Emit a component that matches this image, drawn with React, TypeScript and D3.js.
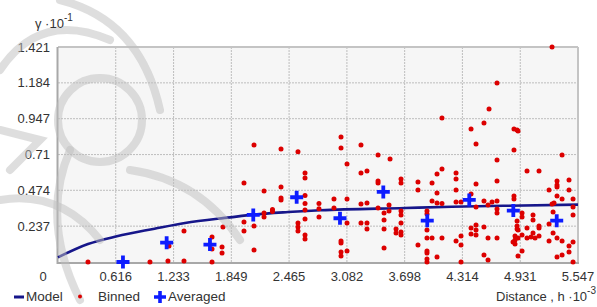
import React, { useEffect, useRef } from 'react';
import * as d3 from 'd3';

// distance in units of 10^-3, semivariance in units of 10^-1
const xTicks = [0.616, 1.233, 1.849, 2.465, 3.082, 3.698, 4.314, 4.931, 5.547];
const yTicks = [0.237, 0.474, 0.71, 0.947, 1.184, 1.421];

const modelCurve: [number, number][] = [
  [0, 0.031], [0.32, 0.119], [0.628, 0.17], [1.03, 0.22], [1.355, 0.258], [1.835, 0.295],
  [2.084, 0.313], [2.455, 0.33], [2.8, 0.342], [3.7, 0.357], [4.2, 0.365], [4.8, 0.372], [5.547, 0.379],
];

const averaged: [number, number][] = [
  [0.693, 0], [1.159, 0.128], [1.621, 0.115], [2.083, 0.311], [2.546, 0.428], [3.008, 0.289],
  [3.47, 0.463], [3.939, 0.273], [4.387, 0.41], [4.857, 0.34], [5.32, 0.273],
];

const binned: [number, number][] = [
  [0.32, 0], [0.981, 0], [1.173, 0.007], [1.344, 0.007], [1.344, 0.205], [1.184, 0.106],
  [1.643, 0], [1.643, 0.165], [1.643, 0.086], [1.76, 0.231], [1.75, 0.099], [1.75, 0.059],
  [1.984, 0.522], [1.984, 0.264], [1.984, 0.205], [2.091, 0.773], [2.091, 0.238], [2.091, 0.079],
  [2.198, 0.469], [2.198, 0.324], [2.198, 0.297], [2.288, 0.347], [2.288, 0.334],
  [2.379, 0.747], [2.379, 0.496], [2.379, 0.423], [2.379, 0.41],
  [2.56, 0.729], [2.56, 0.258], [2.56, 0.231], [2.56, 0.205],
  [2.635, 0.588], [2.635, 0.555], [2.635, 0.44], [2.635, 0.387], [2.635, 0.344], [2.635, 0.284],
  [2.635, 0.178], [2.635, 0.152], [2.784, 0.387], [2.784, 0.352], [2.784, 0.297],
  [3.019, 0.826], [3.019, 0.753], [3.232, 0.773], [3.083, 0.648], [3.414, 0.707], [3.542, 0.681],
  [3.232, 0.588], [3.296, 0.601], [3.414, 0.535], [3.414, 0.522], [3.659, 0.549], [3.659, 0.522],
  [3.84, 0.529], [3.84, 0.476], [3.99, 0.522], [4.043, 0.582], [4.096, 0.615], [4.043, 0.456],
  [3.99, 0.403], [4.043, 0.39], [4.096, 0.387],
  [2.944, 0.416], [2.944, 0.357], [3.083, 0.416], [3.232, 0.383], [3.296, 0.39], [3.414, 0.357],
  [3.531, 0.377], [3.531, 0.337], [3.659, 0.337], [3.659, 0.311], [3.478, 0.324], [3.478, 0.278],
  [3.083, 0.258], [3.232, 0.258], [3.296, 0.258], [3.296, 0.218], [3.478, 0.218],
  [3.606, 0.218], [3.606, 0.192], [3.659, 0.198], [3.659, 0.178], [3.659, 0.258],
  [3.019, 0.139], [3.019, 0.126], [3.019, 0.066], [3.019, 0.04], [3.083, 0.073], [3.478, 0.093],
  [3.84, 0.112], [3.936, 0.337], [3.936, 0.317], [3.936, 0.211], [3.936, 0.159], [3.936, 0.073],
  [3.936, 0.059], [3.936, 0.02], [3.936, 0], [3.99, 0.159], [4.096, 0.159], [4.043, 0.033],
  [4.096, 0.952], [4.246, 0.588], [4.246, 0.549], [4.246, 0.476], [4.246, 0.397], [4.299, 0.397],
  [4.246, 0.139], [4.299, 0.172], [4.299, 0.112], [4.299, 0],
  [4.406, 0.879], [4.544, 0.919], [4.459, 0.78], [4.598, 1.011], [4.683, 1.183], [5.27, 1.421],
  [4.864, 0.879], [4.897, 0.872], [4.907, 0.866], [4.864, 0.74],
  [4.459, 0.516], [4.406, 0.449], [4.544, 0.403], [4.63, 0.397], [4.683, 0.403], [4.459, 0.364],
  [4.587, 0.377], [4.683, 0.35], [4.683, 0.324], [4.683, 0.674], [4.683, 0.535],
  [4.406, 0.225], [4.406, 0.185], [4.459, 0.245], [4.459, 0.211], [4.459, 0.178], [4.544, 0.231],
  [4.587, 0.159], [4.683, 0.159], [4.544, 0.046], [4.587, 0.013],
  [4.864, 0.436], [4.864, 0.416], [5.003, 0.601], [5.131, 0.601],
  [4.95, 0.324], [4.95, 0.297], [4.897, 0.271], [5.067, 0.311], [5.067, 0.278],
  [4.897, 0.238], [4.897, 0.218], [5.003, 0.225], [5.131, 0.238], [5.131, 0.225],
  [4.907, 0.211], [4.875, 0.172], [4.907, 0.159], [4.875, 0.145], [4.854, 0.132], [4.875, 0.119],
  [4.95, 0.178], [5.003, 0.159], [5.046, 0.165], [5.067, 0.192], [5.131, 0.172], [5.089, 0.159],
  [4.95, 0.073], [4.907, 0.04],
  [5.238, 0.476], [5.323, 0.535], [5.323, 0.509], [5.323, 0.496], [5.451, 0.542], [5.451, 0.476],
  [5.323, 0.436], [5.27, 0.383], [5.291, 0.39], [5.377, 0.416], [5.494, 0.416], [5.494, 0.364],
  [5.494, 0.311], [5.281, 0.33], [5.238, 0.251], [5.281, 0.192], [5.323, 0.159], [5.377, 0.139],
  [5.238, 0.139], [5.451, 0.106], [5.494, 0.132], [5.451, 0.066], [5.323, 0.033], [5.377, 0.046],
  [5.494, 0], [5.377, 0.707],
];

const font = '"Liberation Sans", Arial, sans-serif';
const textColor = '#333';

const App: React.FC = () => {
  const ref = useRef<SVGSVGElement | null>(null);

  useEffect(() => {
    if (!ref.current) return;
    const svg = d3.select(ref.current);
    svg.selectAll('*').remove();

    const W = 597, H = 307;
    const margin = { top: 47, right: 19, bottom: 45, left: 58 };
    const width = W - margin.left - margin.right;
    const height = H - margin.top - margin.bottom;

    const x = d3.scaleLinear().domain([0, 5.547]).range([0, width]);
    const y = d3.scaleLinear().domain([0, 1.421]).range([height, 0]);

    svg.append('rect').attr('width', W).attr('height', H).attr('fill', '#fff');

    const chart = svg.append('g').attr('transform', `translate(${margin.left},${margin.top})`);
    chart.append('rect').attr('width', width).attr('height', height).attr('fill', '#f6f6f6');

    // faint ornament watermark
    const wm = svg.append('g').attr('fill', 'none').attr('stroke', '#bdbdbd').attr('stroke-opacity', 0.5)
      .attr('stroke-width', 8).attr('stroke-linecap', 'round');
    wm.append('path').attr('d', 'M60,0 Q140,20 160,110');
    wm.append('path').attr('d', 'M0,70 Q40,10 110,40');
    wm.append('circle').attr('cx', 100).attr('cy', 120).attr('r', 42);
    wm.append('path').attr('d', 'M70,150 Q40,220 80,300');
    wm.append('path').attr('d', 'M130,170 Q200,180 240,240');
    wm.append('path').attr('d', 'M0,200 Q60,190 100,240');
    wm.append('path').attr('d', 'M0,130 L40,140 L10,170');

    // grid
    const grid = chart.append('g').attr('stroke', '#bdbdbd').attr('stroke-width', 1).attr('stroke-dasharray', '2,1');
    grid.selectAll('.vx').data(xTicks.slice(0, -1)).enter().append('line')
      .attr('x1', d => x(d)).attr('x2', d => x(d)).attr('y1', 0).attr('y2', height);
    grid.selectAll('.hy').data(yTicks.slice(0, -1)).enter().append('line')
      .attr('x1', 0).attr('x2', width).attr('y1', d => y(d)).attr('y2', d => y(d));

    // frame
    chart.append('line').attr('x1', 0).attr('x2', width).attr('y1', 0).attr('y2', 0)
      .attr('stroke', '#c4c4c4').attr('stroke-width', 2);
    chart.append('line').attr('x1', width).attr('x2', width).attr('y1', 0).attr('y2', height + 1)
      .attr('stroke', '#c4c4c4').attr('stroke-width', 2);
    chart.append('line').attr('x1', 0).attr('x2', width + 1).attr('y1', height + 1).attr('y2', height + 1)
      .attr('stroke', '#a8a8a8').attr('stroke-width', 2);
    chart.append('line').attr('x1', -0.5).attr('x2', -0.5).attr('y1', 0).attr('y2', height + 2)
      .attr('stroke', '#a8a8a8').attr('stroke-width', 2);

    // tick labels
    chart.selectAll('.yl').data(yTicks).enter().append('text')
      .attr('x', -8).attr('y', d => y(d) + 4.5).attr('text-anchor', 'end')
      .attr('font-family', font).attr('font-size', 13).attr('fill', textColor).text(d => String(d));
    chart.selectAll('.xl').data(xTicks).enter().append('text')
      .attr('x', d => x(d)).attr('y', height + 19).attr('text-anchor', 'middle')
      .attr('font-family', font).attr('font-size', 13).attr('fill', textColor).text(d => String(d));
    chart.append('text').attr('x', -15).attr('y', height + 19).attr('text-anchor', 'middle')
      .attr('font-family', font).attr('font-size', 13).attr('fill', textColor).text('0');

    // model
    const line = d3.line<[number, number]>().x(d => x(d[0])).y(d => y(d[1])).curve(d3.curveMonotoneX);
    chart.append('path').datum(modelCurve).attr('d', line).attr('fill', 'none')
      .attr('stroke', '#16168a').attr('stroke-width', 2.6);

    // binned
    chart.selectAll('.dot').data(binned).enter().append('circle')
      .attr('cx', d => x(d[0])).attr('cy', d => y(d[1])).attr('r', 2.5).attr('fill', '#dc0000');

    // averaged
    chart.selectAll('.avg').data(averaged).enter().append('path')
      .attr('d', 'M-6.5,0H6.5M0,-6.5V6.5')
      .attr('transform', d => `translate(${x(d[0])},${y(d[1])})`)
      .attr('stroke', '#0d1cff').attr('stroke-width', 3.8).attr('fill', 'none');

    // axis titles
    const yt = svg.append('text').attr('x', 35).attr('y', 28).attr('font-family', font)
      .attr('font-size', 13).attr('fill', textColor);
    yt.append('tspan').text('γ ·10');
    yt.append('tspan').attr('dy', -7).attr('font-size', 10).text('-1');

    const xt = svg.append('text').attr('x', 596).attr('y', 301).attr('text-anchor', 'end')
      .attr('font-family', font).attr('font-size', 13).attr('fill', textColor);
    xt.append('tspan').text('Distance , h ·10');
    xt.append('tspan').attr('dy', -7).attr('font-size', 10).text('-3');

    // legend
    const lg = svg.append('g').attr('font-family', font).attr('font-size', 13.5).attr('fill', textColor);
    lg.append('line').attr('x1', 14).attr('x2', 24).attr('y1', 297).attr('y2', 297)
      .attr('stroke', '#16168a').attr('stroke-width', 3);
    lg.append('text').attr('x', 26).attr('y', 301).text('Model');
    lg.append('circle').attr('cx', 80).attr('cy', 296.5).attr('r', 2).attr('fill', '#dc0000');
    lg.append('text').attr('x', 98).attr('y', 301).text('Binned');
    lg.append('path').attr('d', 'M-6,0H6M0,-6V6').attr('transform', 'translate(160,297)')
      .attr('stroke', '#0d1cff').attr('stroke-width', 3.6);
    lg.append('text').attr('x', 168).attr('y', 301).text('Averaged');
  }, []);

  return (
    <svg ref={ref} width={597} height={307} style={{ position: 'absolute', left: 0, top: 0 }} />
  );
};

export default App;
